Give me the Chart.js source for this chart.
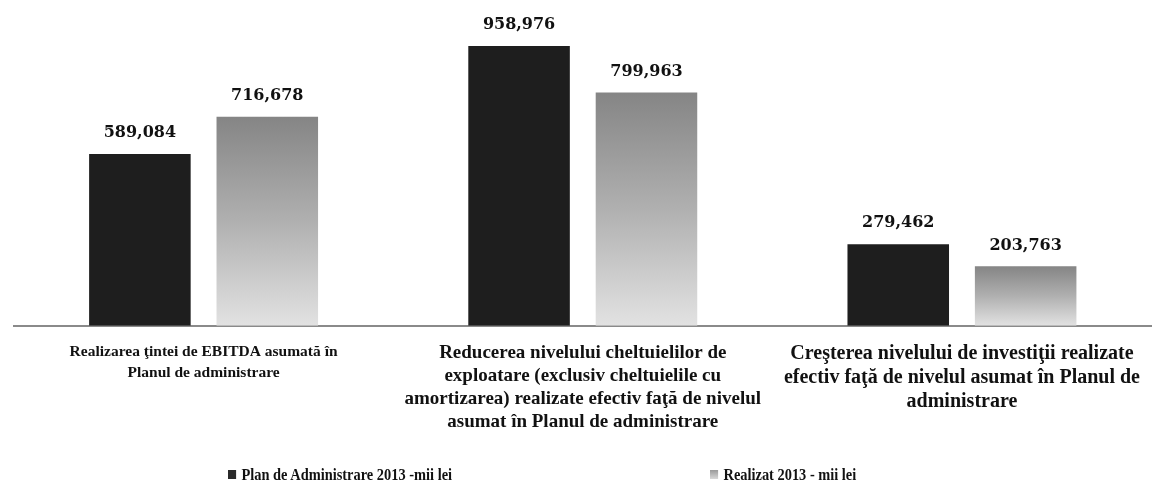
<!DOCTYPE html>
<html>
<head>
<meta charset="utf-8">
<script src="https://cdn.jsdelivr.net/npm/chart.js@4"></script>
<style>
  html, body { margin: 0; padding: 0; background: #fff; }
  #wrap { position: relative; width: 1156px; height: 495px; }
  #legend { position: absolute; left: 0; top: 466px; width: 1156px; height: 24px;
    font-family: "Liberation Serif", serif; font-weight: bold; font-size: 16px; color: #111; }
  .item { position: absolute; top: 0; white-space: nowrap; transform-origin: left center; transform: scaleX(0.9); }
  .box { display: inline-block; width: 9px; height: 9px; margin-right: 6px; vertical-align: 1px; }
</style>
</head>
<body>
<div id="wrap">
  <canvas id="barChart" width="1156" height="495"></canvas>
  <div id="legend"></div>
</div>
<script>
document.addEventListener('DOMContentLoaded', function () {
    const categories = [
        ['Realizarea ţintei de EBITDA asumată în', 'Planul de administrare'],
        ['Reducerea nivelului cheltuielilor de', 'exploatare (exclusiv cheltuielile cu', 'amortizarea) realizate efectiv faţă de nivelul', 'asumat în Planul de administrare'],
        ['Creşterea nivelului de investiţii realizate', 'efectiv faţă de nivelul asumat în Planul de', 'administrare']
    ];
    const seriesNames = ['Plan de Administrare 2013 -mii lei', 'Realizat 2013 - mii lei'];
    const planValues = [589084, 958976, 279462];
    const realizatValues = [716678, 799963, 203763];

    const ctx = document.getElementById('barChart').getContext('2d');

    // ukuran huruf label kategori di gambar asli tidak sama
    const tickSizes = [15.5, 19, 20];
    const tickLineHeights = [1.35, 1.2, 1.2];

    function lightGradient(context) {
        const chart = context.chart;
        const area = chart.chartArea;
        if (!area || context.type !== 'data') return '#bbbbbb';
        const y = chart.scales.y;
        const top = y.getPixelForValue(context.raw);
        const g = chart.ctx.createLinearGradient(0, top, 0, y.getPixelForValue(0));
        g.addColorStop(0, '#858585');
        g.addColorStop(0.5, '#b0b0b0');
        g.addColorStop(1, '#e2e2e2');
        return g;
    }

    // angka di atas batang
    const valueLabels = {
        id: 'valueLabels',
        afterDatasetsDraw(chart) {
            const c = chart.ctx;
            c.save();
            c.font = 'bold 16px "DejaVu Serif", serif';
            c.fillStyle = '#111';
            c.textAlign = 'center';
            c.textBaseline = 'bottom';
            chart.data.datasets.forEach((ds, i) => {
                chart.getDatasetMeta(i).data.forEach((bar, j) => {
                    c.fillText(ds.data[j].toLocaleString('en-US'), bar.x, bar.y - 13);
                });
            });
            c.restore();
        }
    };

    new Chart(ctx, {
        type: 'bar',
        data: {
            labels: categories,
            datasets: [{
                label: seriesNames[0],
                data: planValues,
                backgroundColor: '#1e1e1e',
                borderWidth: 0
            }, {
                label: seriesNames[1],
                data: realizatValues,
                backgroundColor: lightGradient,
                borderWidth: 0
            }]
        },
        options: {
            responsive: false,
            animation: false,
            categoryPercentage: 0.672,
            barPercentage: 0.797,
            layout: { padding: { top: 46, left: 14, right: 0, bottom: 46 } },
            scales: {
                x: {
                    grid: { display: false, drawTicks: false },
                    border: { display: true, color: '#8a8a8a', width: 2 },
                    ticks: {
                        color: '#111',
                        padding: 16,
                        maxRotation: 0,
                        autoSkip: false,
                        font: function (context) {
                            const i = context.index || 0;
                            return { family: '"Liberation Serif", serif', weight: 'bold', size: tickSizes[i], lineHeight: tickLineHeights[i] };
                        }
                    }
                },
                y: { display: false, min: 0, max: 958976 }
            },
            plugins: {
                legend: { display: false },
                tooltip: { enabled: false }
            }
        },
        plugins: [valueLabels]
    });

    // legend manual, posisinya mengikuti gambar asli
    const legend = document.getElementById('legend');
    const legendBoxes = ['#2a2a2a', 'linear-gradient(#9a9a9a, #d8d8d8)'];
    const legendLeft = [228, 710];
    seriesNames.forEach((name, i) => {
        const item = document.createElement('span');
        item.className = 'item';
        item.style.left = legendLeft[i] + 'px';
        item.innerHTML = '<span class="box" style="background:' + legendBoxes[i] + '"></span>' + name;
        legend.appendChild(item);
    });
});
</script>
</body>
</html>
